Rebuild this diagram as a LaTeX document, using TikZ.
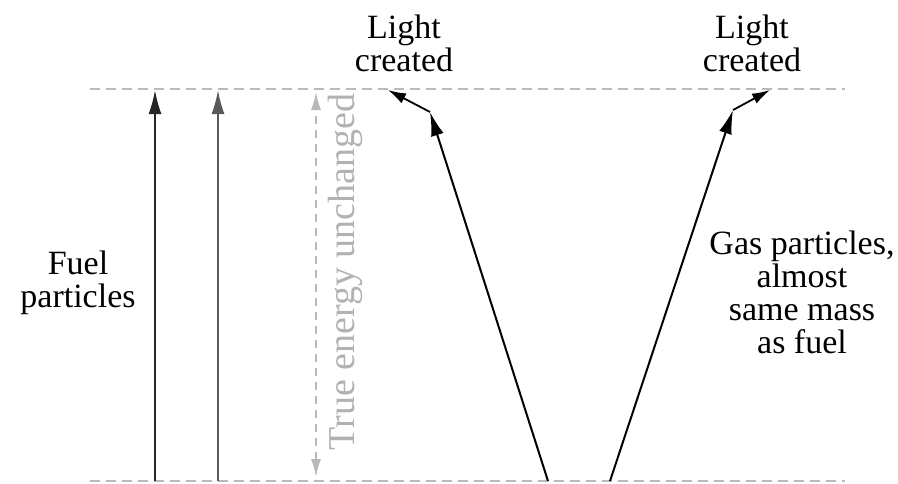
\documentclass[tikz,border=0pt]{standalone}
\usepackage{fontspec}
\setmainfont{Liberation Serif}
\usetikzlibrary{arrows.meta,positioning}

\begin{document}
\begin{tikzpicture}[
    x=0.5pt, y=-0.5pt,
    level/.style={dashed, gray!55, line width=0.8pt, dash pattern=on 5pt off 3pt},
    label/.style={align=center, font=\fontsize{17}{16.5}\selectfont, inner sep=0pt},
    particle/.style={-{Latex[length=12pt, width=6.5pt]}, line width=1pt},
    photon/.style={-{Latex[length=9pt, width=5.5pt]}, line width=0.9pt},
    energy/.style={{Latex[length=9pt, width=5pt]}-{Latex[length=9pt, width=5pt]}, gray!55, line width=0.8pt, dash pattern=on 4pt off 3pt}
]
\useasboundingbox (0,0) rectangle (898,483);

% energy levels
\coordinate (topL) at (90,89);
\coordinate (topR) at (845,89);
\coordinate (botL) at (90,481);
\coordinate (botR) at (845,481);
\draw[level] (topL) -- (topR);
\draw[level] (botL) -- (botR);

% fuel particles
\coordinate (fuelA0) at (155,481);
\coordinate (fuelA1) at (155,90);
\coordinate (fuelB0) at (218,481);
\coordinate (fuelB1) at (218,90);
\draw[particle, black!85] (fuelA0) -- (fuelA1);
\draw[particle, black!65] (fuelB0) -- (fuelB1);
\node[label] (fuel) at (78,283) {Fuel\\particles};

% true energy
\coordinate (enTop) at (316,92);
\coordinate (enBot) at (316,477);
\draw[energy] (enBot) -- (enTop);
\node[label, gray!60, font=\fontsize{19}{19}\selectfont, rotate=90] (true) at (345,272) {True energy unchanged};

% gas particles
\coordinate (gasL0) at (548,481);
\coordinate (gasL1) at (430,112);
\coordinate (gasR0) at (610,481);
\coordinate (gasR1) at (733,110);
\draw[particle] (gasL0) -- (gasL1);
\draw[particle] (gasR0) -- (gasR1);
\node[label] (gas) at (802,292) {Gas particles,\\almost\\same mass\\as fuel};

% light
\coordinate (lightL) at (388,90);
\coordinate (lightR) at (770,90);
\draw[photon] (gasL1) -- (lightL);
\draw[photon] (gasR1) -- (lightR);
\node[label] (createdL) at (404,43) {Light\\created};
\node[label] (createdR) at (752,43) {Light\\created};
\end{tikzpicture}
\end{document}
